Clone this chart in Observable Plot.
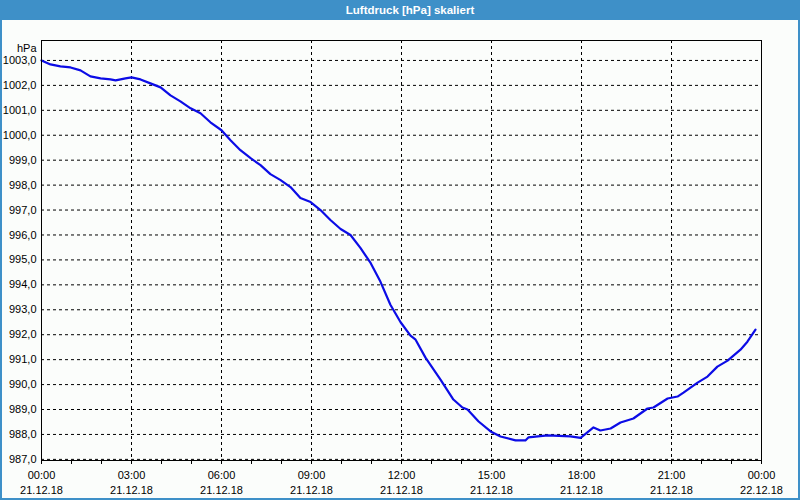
<!DOCTYPE html>
<html>
<head>
<meta charset="utf-8">
<script src="https://cdn.jsdelivr.net/npm/d3@7"></script>
<script src="https://cdn.jsdelivr.net/npm/@observablehq/plot@0.6"></script>
<style>
  html, body { margin: 0; padding: 0; background: #fbfdfb; }
  #wrap { position: relative; width: 800px; height: 500px; overflow: hidden; background: #fbfdfb; }
  #title { position: absolute; left: 0; top: 0; width: 800px; height: 20px; background: #3e90c8;
           color: #fff; font: bold 11.5px "Liberation Sans", Arial, sans-serif; line-height: 20px;
           text-align: center; padding-left: 20px; box-sizing: border-box; }
  #chart { position: absolute; left: 0; top: 20px; }
  #border { position: absolute; left: 0; top: 0; width: 800px; height: 500px; box-sizing: border-box;
            border: 2px solid #3e90c8; border-top: none; pointer-events: none; }
</style>
</head>
<body>
<div id="wrap">
  <div id="title">Luftdruck [hPa] skaliert</div>
  <div id="chart"></div>
  <div id="border"></div>
</div>
<script>
// Time of day in hours since 21.12.18 00:00
const hours = [0, 0.3, 0.63, 0.97, 1.3, 1.63, 1.97, 2.3, 2.47, 2.8, 3.0, 3.3, 3.63, 3.97, 4.3, 4.63, 4.97, 5.3, 5.63, 6.0,
  6.3, 6.63, 6.97, 7.3, 7.63, 7.97, 8.3, 8.63, 8.97, 9.3, 9.63, 9.97, 10.3, 10.63, 10.97, 11.3, 11.63, 11.97,
  12.3, 12.47, 12.8, 13.3, 13.73, 14.03, 14.2, 14.57, 14.97, 15.3, 15.8, 16.13, 16.23, 16.87, 17.63, 17.97,
  18.4, 18.63, 18.97, 19.3, 19.73, 20.2, 20.4, 20.87, 21.2, 21.4, 21.87, 22.2, 22.53, 22.87, 23.3, 23.53, 23.8];
// Air pressure in hPa
const pressure = [1003.0, 1002.84, 1002.76, 1002.72, 1002.6, 1002.36, 1002.28, 1002.24, 1002.2, 1002.28, 1002.32, 1002.24, 1002.08, 1001.92, 1001.6, 1001.36, 1001.08, 1000.88, 1000.52, 1000.2,
  999.8, 999.4, 999.08, 998.8, 998.44, 998.2, 997.92, 997.48, 997.32, 997.0, 996.6, 996.24, 996.0, 995.48, 994.88, 994.12, 993.2, 992.5,
  991.96, 991.8, 991.08, 990.2, 989.4, 989.08, 989.0, 988.52, 988.12, 987.92, 987.76, 987.76, 987.88, 987.96, 987.92, 987.86,
  988.28, 988.16, 988.24, 988.48, 988.64, 989.04, 989.08, 989.44, 989.52, 989.68, 990.08, 990.32, 990.72, 990.96, 991.4, 991.72, 992.2];

const yTicks = [987, 988, 989, 990, 991, 992, 993, 994, 995, 996, 997, 998, 999, 1000, 1001, 1002, 1003];
const majorHours = [0, 3, 6, 9, 12, 15, 18, 21, 24];
const minorHours = [0, 1, 2, 3, 4, 5, 6, 7, 8, 9, 10, 11, 12, 13, 14, 15, 16, 17, 18, 19, 20, 21, 22, 23, 24];
const timeLabels = ["00:00", "03:00", "06:00", "09:00", "12:00", "15:00", "18:00", "21:00", "00:00"];
const dateLabels = ["21.12.18", "21.12.18", "21.12.18", "21.12.18", "21.12.18", "21.12.18", "21.12.18", "21.12.18", "22.12.18"];
const yUnit = "hPa";

const data = hours.map((h, i) => ({h, p: pressure[i]}));
const fmtY = d => d.toFixed(1).replace(".", ",");

const chart = Plot.plot({
  width: 800,
  height: 480,
  marginLeft: 41,
  marginRight: 39,
  marginTop: 20,
  marginBottom: 40,
  style: {background: "transparent", fontFamily: "'Liberation Sans', Arial, sans-serif", fontSize: "11px", color: "#000"},
  x: {domain: [0, 24], axis: null},
  y: {domain: [986.955, 1003.8], axis: null},
  marks: [
    Plot.ruleY(yTicks, {stroke: "#000", strokeDasharray: "3,3"}),
    Plot.ruleX(majorHours, {stroke: "#000", strokeDasharray: "3,3"}),
    Plot.axisY(yTicks, {label: null, tickSize: 0, tickPadding: 5, tickFormat: fmtY, fill: "#000"}),
    Plot.axisX(minorHours, {label: null, tickSize: 4, tickFormat: () => "", stroke: "#000"}),
    Plot.axisX(majorHours, {label: null, tickSize: 0, tickPadding: 11, tickFormat: d => timeLabels[majorHours.indexOf(d)], fill: "#000"}),
    Plot.axisX(majorHours, {label: null, tickSize: 0, tickPadding: 26, tickFormat: d => dateLabels[majorHours.indexOf(d)], fill: "#000"}),
    Plot.line(data, {x: "h", y: "p", stroke: "#0c0ce6", strokeWidth: 2.2}),
    Plot.frame({stroke: "#000"}),
    Plot.text([yUnit], {frameAnchor: "top-left", dx: -5, dy: 4, textAnchor: "end", fill: "#000"})
  ]
});
document.getElementById("chart").appendChild(chart);
</script>
</body>
</html>
